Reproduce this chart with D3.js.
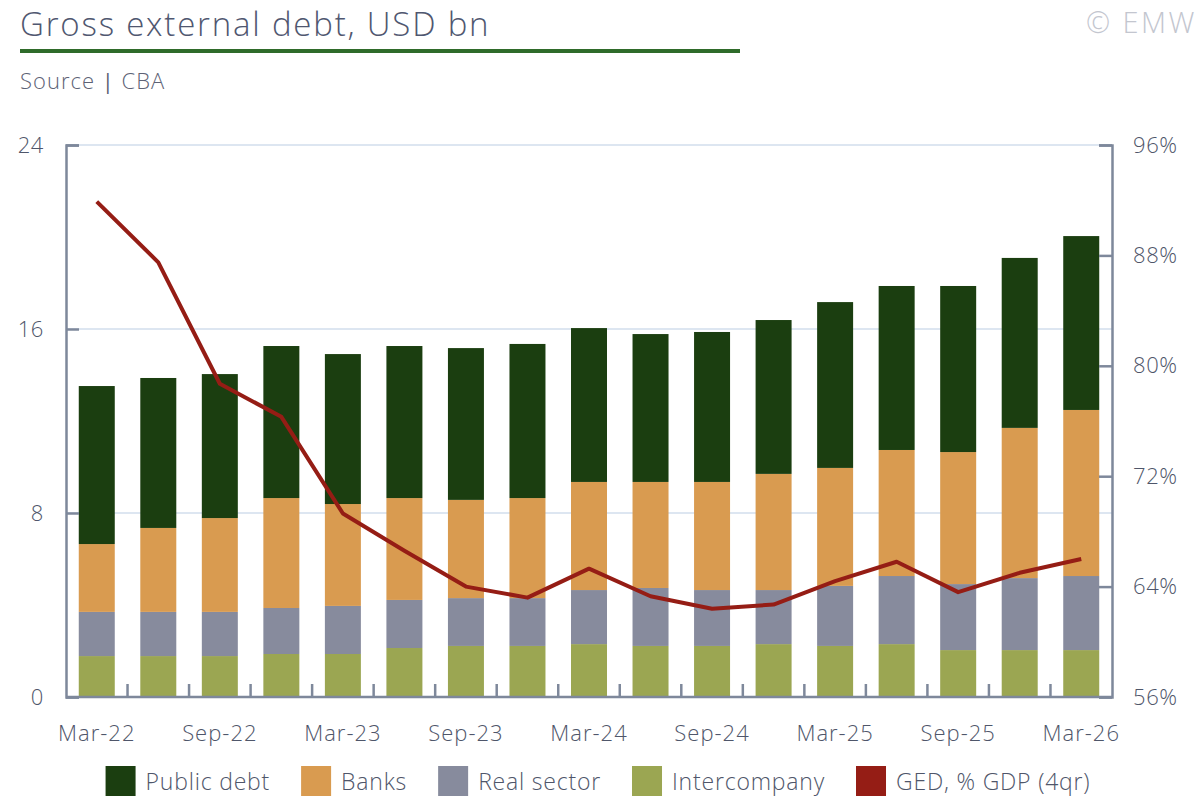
<!DOCTYPE html>
<html>
<head>
<meta charset="utf-8">
<script src="https://cdn.jsdelivr.net/npm/d3@7"></script>
<style>
  body { margin: 0; background: #fff; }
  svg { font-family: "Open Sans", "Lato", sans-serif; font-weight: 300; }
</style>
</head>
<body>
<div id="chart"></div>
<script>
// Quarter labels (only every second one is printed on the axis)
const quarters = ["Mar-22", "Jun-22", "Sep-22", "Dec-22", "Mar-23", "Jun-23", "Sep-23", "Dec-23",
  "Mar-24", "Jun-24", "Sep-24", "Dec-24", "Mar-25", "Jun-25", "Sep-25", "Dec-25", "Mar-26"];
const shownLabels = ["Mar-22", "Sep-22", "Mar-23", "Sep-23", "Mar-24", "Sep-24", "Mar-25", "Sep-25", "Mar-26"];

// Stacked components, USD bn (bottom to top)
const intercompany = [1.78, 1.78, 1.78, 1.87, 1.87, 2.13, 2.22, 2.22, 2.30, 2.22, 2.22, 2.30, 2.22, 2.30, 2.04, 2.04, 2.04];
const realSector = [1.92, 1.92, 1.92, 2.00, 2.09, 2.09, 2.08, 2.08, 2.35, 2.52, 2.43, 2.35, 2.61, 2.96, 2.87, 3.13, 3.22];
const banks = [2.95, 3.65, 4.08, 4.78, 4.43, 4.43, 4.27, 4.35, 4.70, 4.61, 4.70, 5.05, 5.13, 5.48, 5.74, 6.53, 7.22];
const publicDebt = [6.87, 6.52, 6.26, 6.61, 6.52, 6.61, 6.60, 6.70, 6.69, 6.43, 6.52, 6.69, 7.21, 7.13, 7.22, 7.39, 7.56];

// GED, % GDP (4 quarter rolling)
const gedPctGdp = [91.9, 87.5, 78.7, 76.3, 69.3, 66.6, 64.0, 63.2, 65.3, 63.3, 62.4, 62.7, 64.4, 65.8, 63.6, 65.0, 66.0];

const leftTicks = [0, 8, 16, 24];
const rightTicks = [56, 64, 72, 80, 88, 96];

const seriesNames = ["Public debt", "Banks", "Real sector", "Intercompany", "GED, % GDP (4qr)"];
const seriesColors = ["#1b3e10", "#d99b50", "#878b9d", "#9ba652", "#951d15"];

const width = 1200, height = 800;
const plotLeft = 66, plotRight = 1112, plotTop = 145, plotBottom = 697;
const axisColor = "#7e889b", textColor = "#4f566a";

const svg = d3.select("#chart").append("svg")
  .attr("width", width).attr("height", height);

// Title block
svg.append("text").attr("x", 20).attr("y", 36)
  .attr("font-size", 33).attr("letter-spacing", 1.8)
  .attr("fill", "#505770").text("Gross external debt, USD bn");
svg.append("rect").attr("x", 20).attr("y", 49).attr("width", 720).attr("height", 4).attr("fill", "#2f6b2a");
const src = svg.append("text").attr("x", 20).attr("y", 89)
  .attr("font-size", 22).attr("letter-spacing", 1).attr("fill", "#5d6275");
src.append("tspan").text("Source ");
src.append("tspan").attr("font-weight", 400).text("|");
src.append("tspan").text(" CBA");
svg.append("text").attr("x", 1197).attr("y", 33).attr("text-anchor", "end")
  .attr("font-size", 29).attr("letter-spacing", 2.5).attr("fill", "#c3c6cf").text("© EMW");

// Scales
const x = d3.scaleBand().domain(quarters).range([plotLeft, plotRight])
  .paddingInner(0.415).paddingOuter(0.2075);
const y = d3.scaleLinear().domain([0, 24]).range([plotBottom, plotTop]);
const y2 = d3.scaleLinear().domain([56, 96]).range([plotBottom, plotTop]);

// Gridlines
svg.append("g").selectAll("line").data(leftTicks.filter(d => d > 0)).join("line")
  .attr("x1", plotLeft).attr("x2", plotRight)
  .attr("y1", d => y(d)).attr("y2", d => y(d))
  .attr("stroke", "#dde6f1").attr("stroke-width", 2);

// Stacked bars
const rows = quarters.map((q, i) => ({
  q, inter: intercompany[i], real: realSector[i], banks: banks[i], pub: publicDebt[i]
}));
const keys = ["inter", "real", "banks", "pub"];
const keyColor = { pub: seriesColors[0], banks: seriesColors[1], real: seriesColors[2], inter: seriesColors[3] };
const stacked = d3.stack().keys(keys)(rows);

svg.append("g").selectAll("g").data(stacked).join("g")
  .attr("fill", d => keyColor[d.key])
  .selectAll("rect").data(d => d).join("rect")
  .attr("x", d => x(d.data.q))
  .attr("width", x.bandwidth())
  .attr("y", d => y(d[1]))
  .attr("height", d => y(d[0]) - y(d[1]));

// Line on right axis
const line = d3.line()
  .x((d, i) => x(quarters[i]) + x.bandwidth() / 2)
  .y(d => y2(d));
svg.append("path").datum(gedPctGdp)
  .attr("d", line)
  .attr("fill", "none")
  .attr("stroke", seriesColors[4])
  .attr("stroke-width", 4)
  .attr("stroke-linejoin", "round");

// Left axis
const gLeft = svg.append("g").attr("transform", `translate(${plotLeft},0)`)
  .call(d3.axisLeft(y).tickValues(leftTicks).tickSize(-13).tickPadding(22));
// Right axis
const gRight = svg.append("g").attr("transform", `translate(${plotRight},0)`)
  .call(d3.axisRight(y2).tickValues(rightTicks).tickSize(-13).tickPadding(21).tickFormat(d => d + "%"));

[gLeft, gRight].forEach(g => {
  g.select(".domain").attr("stroke", axisColor).attr("stroke-width", 2.5);
  g.selectAll(".tick line").attr("stroke", axisColor).attr("stroke-width", 2.5);
  g.selectAll(".tick text").attr("font-size", 22).attr("letter-spacing", 0.6).attr("fill", textColor)
    .attr("font-family", "Open Sans").attr("font-weight", 300);
});

// Bottom axis: inward ticks between quarters, labels every other quarter
const step = x.step();
const gBottom = svg.append("g").attr("transform", `translate(0,${plotBottom})`);
gBottom.selectAll("line").data(quarters.slice(1)).join("line")
  .attr("x1", d => x(d) + x.bandwidth() / 2 - step / 2)
  .attr("x2", d => x(d) + x.bandwidth() / 2 - step / 2)
  .attr("y1", 0).attr("y2", -13)
  .attr("stroke", axisColor).attr("stroke-width", 2.5);
gBottom.append("line").attr("x1", plotLeft).attr("x2", plotRight)
  .attr("stroke", axisColor).attr("stroke-width", 2.5);
gBottom.selectAll("text").data(shownLabels).join("text")
  .attr("x", d => x(d) + x.bandwidth() / 2)
  .attr("y", 44)
  .attr("text-anchor", "middle")
  .attr("font-size", 22).attr("letter-spacing", 1).attr("fill", textColor)
  .text(d => d);

// Legend
const legend = svg.append("g");
const items = legend.selectAll("g").data(seriesNames).join("g");
items.append("rect").attr("width", 30).attr("height", 30).attr("y", 766)
  .attr("fill", (d, i) => seriesColors[i]);
items.append("text").attr("x", 40).attr("y", 790)
  .attr("font-size", 23).attr("letter-spacing", 0.8).attr("fill", textColor).text(d => d);
let pos = 0;
const offsets = [];
items.each(function () {
  offsets.push(pos);
  pos += 40 + this.querySelector("text").getComputedTextLength() + 31;
});
const total = pos - 31;
const start = 598 - total / 2;
items.attr("transform", (d, i) => `translate(${start + offsets[i]},0)`);
</script>
</body>
</html>
